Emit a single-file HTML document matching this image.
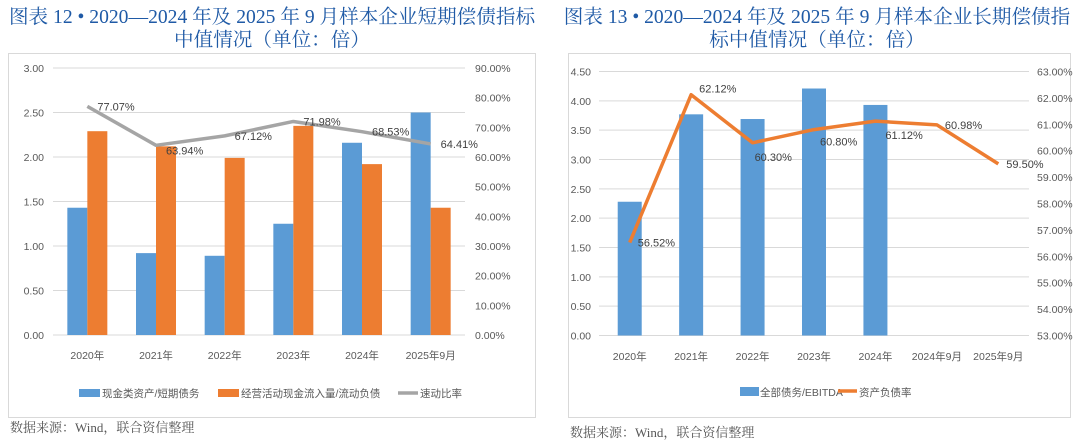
<!DOCTYPE html>
<html><head><meta charset="utf-8"><style>
html,body{margin:0;padding:0;background:#fff;}
svg{display:block;}
.t{font-family:"Liberation Serif","Noto Serif CJK SC",serif;font-size:19.6px;fill:#1f5aa6;}
.ax{font-family:"Liberation Sans","Noto Sans CJK SC",sans-serif;font-size:10.5px;fill:#595959;}
.lb{font-family:"Liberation Sans","Noto Sans CJK SC",sans-serif;font-size:11px;fill:#404040;}
.src{font-family:"Liberation Serif","Noto Serif CJK SC",serif;font-size:13px;fill:#555;}
</style></head><body>
<svg id="svg" width="1080" height="445" xmlns="http://www.w3.org/2000/svg">
<text class="t" x="272" y="23" text-anchor="middle">图表 12 • 2020—2024 年及 2025 年 9 月样本企业短期偿债指标</text>
<text class="t" x="272" y="46" text-anchor="middle">中值情况（单位：倍）</text>
<text class="t" x="817" y="23" text-anchor="middle">图表 13 • 2020—2024 年及 2025 年 9 月样本企业长期偿债指</text>
<text class="t" x="817" y="46" text-anchor="middle">标中值情况（单位：倍）</text>
<rect x="8.5" y="53.5" width="527" height="364" fill="none" stroke="#d9d9d9"/>
<rect x="568.5" y="53.5" width="502" height="364" fill="none" stroke="#d9d9d9"/>
<g id="left"></g>
<g id="right"></g>
<text class="src" x="10" y="432">数据来源：Wind，联合资信整理</text>
<text class="src" x="570" y="437">数据来源：Wind，联合资信整理</text>
</svg>
<script>
const cats1 = ["2020年","2021年","2022年","2023年","2024年","2025年9月"];
const cashRatio = [1.43,0.92,0.89,1.25,2.16,2.50];
const opCashRatio = [2.29,2.12,1.99,2.35,1.92,1.43];
const quickRatio = [77.07,63.94,67.12,71.98,68.53,64.41];
const leftTicks1 = ["0.00","0.50","1.00","1.50","2.00","2.50","3.00"];
const rightTicks1 = ["0.00%","10.00%","20.00%","30.00%","40.00%","50.00%","60.00%","70.00%","80.00%","90.00%"];

const cats2 = ["2020年","2021年","2022年","2023年","2024年","2024年9月","2025年9月"];
const debtEbitda = [2.28,3.77,3.69,4.21,3.93,null,null];
const debtAssetRatio = [56.52,62.12,60.30,60.80,61.12,60.98,59.50];
const leftTicks2 = ["0.00","0.50","1.00","1.50","2.00","2.50","3.00","3.50","4.00","4.50"];
const rightTicks2 = ["53.00%","54.00%","55.00%","56.00%","57.00%","58.00%","59.00%","60.00%","61.00%","62.00%","63.00%"];

const NS="http://www.w3.org/2000/svg";
function mk(parent,tag,attrs,text){const e=document.createElementNS(NS,tag);for(const k in attrs)e.setAttribute(k,attrs[k]);if(text!==undefined)e.textContent=text;parent.appendChild(e);return e;}

(function(){
  const g=document.getElementById('left');
  const x0=53,x1=465,yTop=68,yBot=335;
  const step=(x1-x0)/cats1.length;
  const cx=i=>x0+step*(i+0.5);
  const yL=v=>yBot-(v/3)*(yBot-yTop);
  const yR=v=>yBot-(v/90)*(yBot-yTop);
  leftTicks1.forEach((t,i)=>{
    const y=yBot-i*(yBot-yTop)/6;
    const l=mk(g,'line',{x1:x0,x2:x1,y1:y,y2:y,stroke:'#d9d9d9'});
    
    
    const tx=mk(g,'text',{x:44,y:y+4,'text-anchor':'end',class:'ax'},t);
    
    
  });
  rightTicks1.forEach((t,i)=>{
    const y=yBot-i*(yBot-yTop)/9;
    const tx=mk(g,'text',{x:475,y:y+4,class:'ax'},t);
    
    
  });
  cats1.forEach((c,i)=>{
    const b=mk(g,'rect',{x:cx(i)-20,y:yL(cashRatio[i]),width:20,height:yBot-yL(cashRatio[i]),fill:'#5b9bd5'});
    
    
    const o=mk(g,'rect',{x:cx(i),y:yL(opCashRatio[i]),width:20,height:yBot-yL(opCashRatio[i]),fill:'#ed7d31'});
    
    
    const tx=mk(g,'text',{x:cx(i),y:359,'text-anchor':'middle',class:'ax'},c);
    
    
  });
  const pts=quickRatio.map((v,i)=>cx(i)+','+yR(v)).join(' ');
  const pl=mk(g,'polyline',{points:pts,fill:'none',stroke:'#a5a5a5','stroke-width':3.5,'stroke-linejoin':'round'});
  
  
  quickRatio.forEach((v,i)=>{
    const tx=mk(g,'text',{x:cx(i)+10,y:yR(v)+(i===1?9:4),class:'lb'},v.toFixed(2)+'%');
    
    
  });
  const lr=mk(g,'rect',{x:79,y:389,width:21,height:8,fill:'#5b9bd5'});
  
  
  const lt=mk(g,'text',{x:102,y:397,class:'ax'},'现金类资产/短期债务');
  
  
  const lr2=mk(g,'rect',{x:218,y:389,width:21,height:8,fill:'#ed7d31'});
  
  
  const lt2=mk(g,'text',{x:241,y:397,class:'ax'},'经营活动现金流入量/流动负债');
  
  
  const ll=mk(g,'line',{x1:398,x2:418,y1:393,y2:393,stroke:'#a5a5a5','stroke-width':3.5});
  
  
  const lt3=mk(g,'text',{x:420,y:397,class:'ax'},'速动比率');
  
  
})();

(function(){
  const g=document.getElementById('right');
  const x0=599,x1=1029,yTop=71.5,yBot=335.5;
  const step=(x1-x0)/cats2.length;
  const cx=i=>x0+step*(i+0.5);
  const yL=v=>yBot-(v/4.5)*(yBot-yTop);
  const yR=v=>yBot-((v-53)/10)*(yBot-yTop);
  leftTicks2.forEach((t,i)=>{
    const y=yBot-i*(yBot-yTop)/9;
    const l=mk(g,'line',{x1:x0,x2:x1,y1:y,y2:y,stroke:'#d9d9d9'});
    
    
    const tx=mk(g,'text',{x:591,y:y+4,'text-anchor':'end',class:'ax'},t);
    
    
  });
  rightTicks2.forEach((t,i)=>{
    const y=yBot-i*(yBot-yTop)/10;
    const tx=mk(g,'text',{x:1037,y:y+4,class:'ax'},t);
    
    
  });
  cats2.forEach((c,i)=>{
    if(debtEbitda[i]!=null){
      const b=mk(g,'rect',{x:cx(i)-12,y:yL(debtEbitda[i]),width:24,height:yBot-yL(debtEbitda[i]),fill:'#5b9bd5'});
      
      
    }
    const tx=mk(g,'text',{x:cx(i),y:360,'text-anchor':'middle',class:'ax'},c);
    
    
  });
  const pts=debtAssetRatio.map((v,i)=>cx(i)+','+yR(v)).join(' ');
  const pl=mk(g,'polyline',{points:pts,fill:'none',stroke:'#ed7d31','stroke-width':3.5,'stroke-linejoin':'round'});
  
  
  const offs=[[8,4],[8,-2],[2,18],[6,16],[10,18],[8,4],[8,4]];
  debtAssetRatio.forEach((v,i)=>{
    const tx=mk(g,'text',{x:cx(i)+offs[i][0],y:yR(v)+offs[i][1],class:'lb'},v.toFixed(2)+'%');
    
    
  });
  const lr=mk(g,'rect',{x:740,y:387,width:19,height:9,fill:'#5b9bd5'});
  
  
  const lt=mk(g,'text',{x:760,y:396,class:'ax'},'全部债务/EBITDA');
  
  
  const ll=mk(g,'line',{x1:838,x2:857,y1:391,y2:391,stroke:'#ed7d31','stroke-width':3.5});
  
  
  const lt2=mk(g,'text',{x:859,y:396,class:'ax'},'资产负债率');
  
  
})();
</script>
</body></html>
